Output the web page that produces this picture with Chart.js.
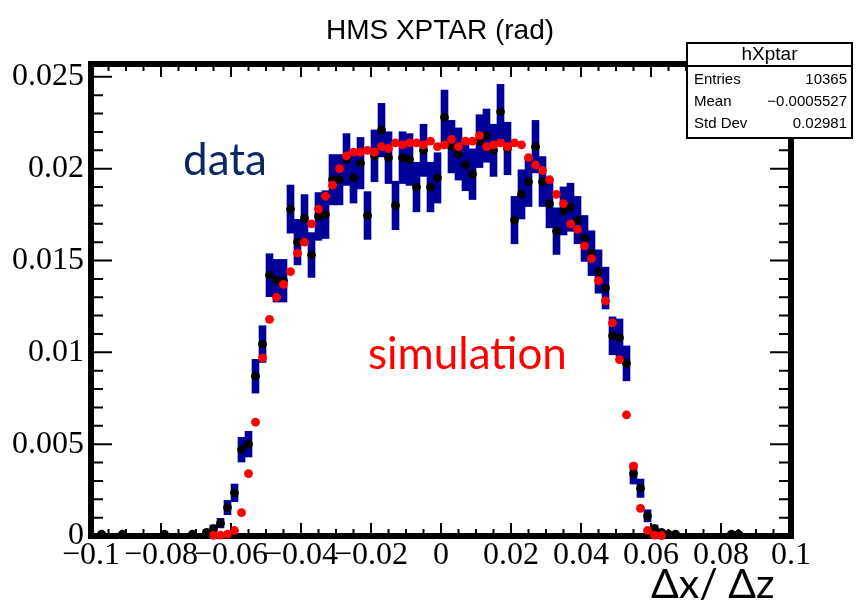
<!DOCTYPE html>
<html>
<head>
<meta charset="utf-8">
<script src="https://cdn.jsdelivr.net/npm/chart.js@4.4.1/dist/chart.umd.min.js"></script>
<style>
  html, body { margin: 0; padding: 0; background: #fff; }
  canvas { display: block; }
</style>
</head>
<body>
<canvas id="hxptar" width="856" height="610"></canvas>
<script>
// measured data (black points, blue boxes = stat. error)
const dataX = [-0.097, -0.091, -0.079, -0.071,
  -0.067, -0.065, -0.063, -0.061, -0.059, -0.057, -0.055, -0.053, -0.051, -0.049,
  -0.047, -0.045, -0.043, -0.041, -0.039, -0.037, -0.035, -0.033, -0.031, -0.029,
  -0.027, -0.025, -0.023, -0.021, -0.019, -0.017, -0.015, -0.013, -0.011, -0.009,
  -0.007, -0.005, -0.003, -0.001, 0.001, 0.003, 0.005, 0.007, 0.009, 0.011,
  0.013, 0.015, 0.017, 0.019, 0.021, 0.023, 0.025, 0.027, 0.029, 0.031,
  0.033, 0.035, 0.037, 0.039, 0.041, 0.043, 0.045, 0.047, 0.049, 0.051,
  0.053, 0.055, 0.057, 0.059, 0.061, 0.063, 0.065, 0.067,
  0.083, 0.085];
const dataY = [0.0001, 0.0001, 0.0001, 0.0001,
  0.0002, 0.0004, 0.0007, 0.00155, 0.00235, 0.0047, 0.0050, 0.0087, 0.01045, 0.0142,
  0.0139, 0.0139, 0.0178, 0.0160, 0.0173, 0.0153, 0.0174, 0.0175, 0.0194, 0.0194,
  0.0205, 0.0195, 0.0203, 0.01745, 0.0207, 0.0221, 0.0206, 0.0180, 0.0206, 0.0205,
  0.0190, 0.0210, 0.0190, 0.0195, 0.0228, 0.0212, 0.0208, 0.0202, 0.0197, 0.0215,
  0.0218, 0.0210, 0.0231, 0.0211, 0.0172, 0.0186, 0.0193, 0.0212, 0.0193, 0.0181,
  0.0166, 0.0177, 0.0179, 0.0172, 0.0162, 0.0154, 0.0144, 0.0135, 0.0109, 0.0108,
  0.0094, 0.0034, 0.0026, 0.0011, 0.0004, 0.0002, 0.0001, 0.0001,
  0.0001, 0.0001];
const dataErr = [0.0001, 0.0001, 0.0001, 0.0001,
  0.00014, 0.0002, 0.00026, 0.00039, 0.00048, 0.00067, 0.0007, 0.00092, 0.001, 0.00117,
  0.00116, 0.00116, 0.00131, 0.00124, 0.00129, 0.00122, 0.0013, 0.0013, 0.00137, 0.00137,
  0.00141, 0.00137, 0.0014, 0.0013, 0.00141, 0.00146, 0.00141, 0.00132, 0.00141, 0.00141,
  0.00135, 0.00142, 0.00135, 0.00137, 0.00148, 0.00143, 0.00142, 0.0014, 0.00138, 0.00144,
  0.00145, 0.00142, 0.00149, 0.00143, 0.00129, 0.00134, 0.00136, 0.00143, 0.00136, 0.00132,
  0.00127, 0.00131, 0.00131, 0.00129, 0.00125, 0.00122, 0.00118, 0.00114, 0.00103, 0.00102,
  0.00095, 0.00057, 0.0005, 0.00033, 0.0002, 0.00014, 0.0001, 0.0001,
  0.0001, 0.0001];

// simulation (red points)
const simX = [-0.065, -0.063, -0.061, -0.059, -0.057, -0.055, -0.053, -0.051, -0.049,
  -0.047, -0.045, -0.043, -0.041, -0.039, -0.037, -0.035, -0.033, -0.031, -0.029,
  -0.027, -0.025, -0.023, -0.021, -0.019, -0.017, -0.015, -0.013, -0.011, -0.009,
  -0.007, -0.005, -0.003, -0.001, 0.001, 0.003, 0.005, 0.007, 0.009, 0.011,
  0.013, 0.015, 0.017, 0.019, 0.021, 0.023, 0.025, 0.027, 0.029, 0.031,
  0.033, 0.035, 0.037, 0.039, 0.041, 0.043, 0.045, 0.047, 0.049, 0.051,
  0.053, 0.055, 0.057, 0.059, 0.061, 0.063];
const simY = [0.00003, 0.00005, 0.0001, 0.0003, 0.00127, 0.0034, 0.0062, 0.0097, 0.0118,
  0.0130, 0.0137, 0.0144, 0.0154, 0.0160, 0.0170, 0.0178, 0.0185, 0.0191, 0.0200,
  0.0207, 0.0209, 0.0209, 0.0210, 0.0209, 0.0212, 0.0211, 0.0214, 0.0213, 0.0214,
  0.0214, 0.0213, 0.0215, 0.0212, 0.0213, 0.0216, 0.0212, 0.0215, 0.0215, 0.0218,
  0.0212, 0.0213, 0.0214, 0.0212, 0.0214, 0.0213, 0.0206, 0.0202, 0.0199, 0.0194,
  0.0186, 0.0181, 0.0170, 0.0167, 0.0158, 0.0151, 0.0139, 0.0128, 0.0116, 0.0096,
  0.0066, 0.0038, 0.0015, 0.0003, 0.00005, 0.00002];

const xTickValues = [-0.1, -0.08, -0.06, -0.04, -0.02, 0, 0.02, 0.04, 0.06, 0.08, 0.1];
const xTickLabels = ['\u22120.1', '\u22120.08', '\u22120.06', '\u22120.04', '\u22120.02', '0',
  '0.02', '0.04', '0.06', '0.08', '0.1'];
const yTickValues = [0, 0.005, 0.01, 0.015, 0.02, 0.025];
const yTickLabels = ['0', '0.005', '0.01', '0.015', '0.02', '0.025'];

const histName = 'hXptar';
const statNames = ['Entries', 'Mean', 'Std Dev'];
const statValues = ['10365', '\u22120.0005527', '0.02981'];

// ROOT style frame with inward ticks on all four sides
const framePlugin = {
  id: 'rootFrame',
  beforeDatasetsDraw(chart) {
    const { ctx, chartArea: { left, right, top, bottom }, scales: { x, y } } = chart;
    ctx.save();
    ctx.strokeStyle = '#000';
    ctx.lineWidth = 2;
    ctx.beginPath();
    for (let k = -20; k <= 20; k++) {
      const px = x.getPixelForValue(k * 0.005);
      const len = k % 4 === 0 ? 13 : 7;
      ctx.moveTo(px, bottom); ctx.lineTo(px, bottom - len);
      ctx.moveTo(px, top); ctx.lineTo(px, top + len);
    }
    for (let k = 0; k <= 25; k++) {
      const py = y.getPixelForValue(k * 0.001);
      const len = k % 5 === 0 ? 21 : 12;
      ctx.moveTo(left, py); ctx.lineTo(left + len, py);
      ctx.moveTo(right, py); ctx.lineTo(right - len, py);
    }
    ctx.stroke();
    ctx.lineWidth = 6;
    ctx.strokeRect(left, top, right - left, bottom - top);
    ctx.restore();
  }
};

// title, stat box and the text labels
const notesPlugin = {
  id: 'notes',
  afterDraw(chart) {
    const ctx = chart.ctx;
    ctx.save();

    ctx.fillStyle = '#000';
    ctx.font = '28px "Liberation Sans"';
    ctx.textAlign = 'center';
    ctx.textBaseline = 'alphabetic';
    ctx.fillText('HMS XPTAR (rad)', 440, 39);

    // stat box
    const bx = 687, by = 43, bw = 165, bh = 95;
    ctx.fillStyle = '#fff';
    ctx.fillRect(bx, by, bw, bh);
    ctx.strokeStyle = '#000';
    ctx.lineWidth = 2;
    ctx.strokeRect(bx, by, bw, bh);
    ctx.beginPath();
    ctx.moveTo(bx, 66); ctx.lineTo(bx + bw, 66);
    ctx.stroke();

    ctx.fillStyle = '#000';
    ctx.textBaseline = 'middle';
    ctx.font = '19px "Liberation Sans"';
    ctx.textAlign = 'center';
    ctx.fillText(histName, bx + bw / 2, 55);
    ctx.font = '15px "Liberation Sans"';
    const rowY = [80, 102, 124];
    statNames.forEach((name, i) => {
      ctx.textAlign = 'left';
      ctx.fillText(name, bx + 7, rowY[i]);
      ctx.textAlign = 'right';
      ctx.fillText(statValues[i], bx + bw - 5, rowY[i]);
    });

    ctx.textBaseline = 'alphabetic';
    ctx.textAlign = 'left';
    ctx.font = '44px Lato';
    ctx.fillStyle = '#0b2766';
    ctx.fillText('data', 183, 175);
    ctx.fillStyle = '#ff0000';
    ctx.fillText('simulation', 368, 369);
    ctx.fillStyle = '#000';
    ctx.font = '41px Lato';
    ctx.fillText('\u0394x/ \u0394z', 651, 598);

    ctx.restore();
  }
};

const errBoxes = dataX.map((x, i) => ({ x: x, y: [dataY[i] - dataErr[i], dataY[i] + dataErr[i]] }));
const dataPts = dataX.map((x, i) => ({ x: x, y: dataY[i] }));
const simPts = simX.map((x, i) => ({ x: x, y: simY[i] }));

const config = {
  type: 'scatter',
  data: {
    datasets: [
      {
        type: 'bar',
        label: 'data error',
        data: errBoxes,
        backgroundColor: '#000099',
        borderWidth: 0,
        barPercentage: 1,
        categoryPercentage: 1,
        order: 3
      },
      {
        label: 'data',
        data: dataPts,
        pointRadius: 4.4,
        pointBorderWidth: 0,
        pointBackgroundColor: '#000',
        clip: false,
        order: 2
      },
      {
        label: 'simulation',
        data: simPts,
        pointRadius: 4.4,
        pointBorderWidth: 0,
        pointBackgroundColor: '#ff0000',
        clip: false,
        order: 1
      }
    ]
  },
  options: {
    responsive: false,
    devicePixelRatio: 1,
    animation: false,
    events: [],
    layout: { padding: { left: 0, top: 64, right: 65, bottom: 34 } },
    plugins: {
      legend: { display: false },
      tooltip: { enabled: false },
      title: { display: false }
    },
    scales: {
      x: {
        type: 'linear',
        min: -0.1,
        max: 0.1,
        offset: false,
        grid: { display: false, drawTicks: false },
        border: { display: false },
        afterBuildTicks: s => { s.ticks = xTickValues.map(v => ({ value: v })); },
        afterFit: s => { s.height = 40; },
        ticks: {
          autoSkip: false,
          maxRotation: 0,
          minRotation: 0,
          padding: 0,
          color: '#000',
          font: { family: '"Liberation Serif"', size: 32 },
          callback: (v, i) => xTickLabels[i]
        }
      },
      y: {
        type: 'linear',
        min: 0,
        max: 0.0257,
        grid: { display: false, drawTicks: false },
        border: { display: false },
        afterBuildTicks: s => { s.ticks = yTickValues.map(v => ({ value: v })); },
        afterFit: s => { s.width = 91; },
        ticks: {
          padding: 7,
          color: '#000',
          font: { family: '"Liberation Serif"', size: 32 },
          callback: (v, i) => yTickLabels[i]
        }
      }
    }
  },
  plugins: [framePlugin, notesPlugin]
};

new Chart(document.getElementById('hxptar').getContext('2d'), config);
</script>
</body>
</html>
